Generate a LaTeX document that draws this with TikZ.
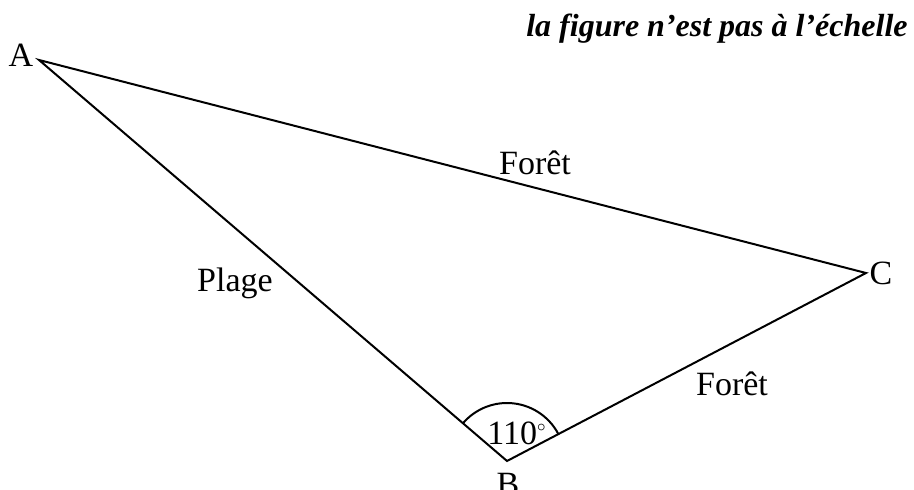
\documentclass[tikz,border=0pt]{standalone}
\usepackage{fontspec}
\setmainfont{Liberation Serif}
\usetikzlibrary{calc}
\def\anglearc[#1](#2)(#3:#4:#5){\draw[#1] ($(#2)+({#5*cos(#3)},{#5*sin(#3)})$) arc (#3:#4:#5);}
\tikzset{lbl/.style={font=\fontsize{17}{20}\selectfont, inner sep=1pt}}

\begin{document}
\begin{tikzpicture}[x=0.5pt,y=-0.5pt]
			%%%%% START %%%%%
			
			\useasboundingbox (0, 0) rectangle (914, 490);
			
			\coordinate (A) at (39, 60);
			\coordinate (B) at (507, 461);
			\coordinate (C) at (866, 273);
			
			\draw[line width=1pt, line join=miter] (A) -- (B) -- (C) -- cycle;
			\anglearc[line width=1pt](B)(-27.6:-139.4:58);
			
			\node[lbl] (lA) at (21, 55) {A};
			\node[lbl] (lB) at (508, 484) {B};
			\node[lbl] (lC) at (881, 273) {C};
			\node[lbl] (angB) at (517, 433) {110$^{\scriptscriptstyle\circ}$};
			
			\node[lbl] (plage) at (235, 283) {Plage};
			\node[lbl] (foretAC) at (535, 163) {Forêt};
			\node[lbl] (foretBC) at (732, 384) {Forêt};
			
			\node[font=\fontsize{16}{19}\selectfont\bfseries\itshape, anchor=base east, inner sep=0pt] (titre) at (908, 37) {la figure n’est pas à l’échelle};
			
			%%%%% END %%%%%
		\end{tikzpicture}
\end{document}
